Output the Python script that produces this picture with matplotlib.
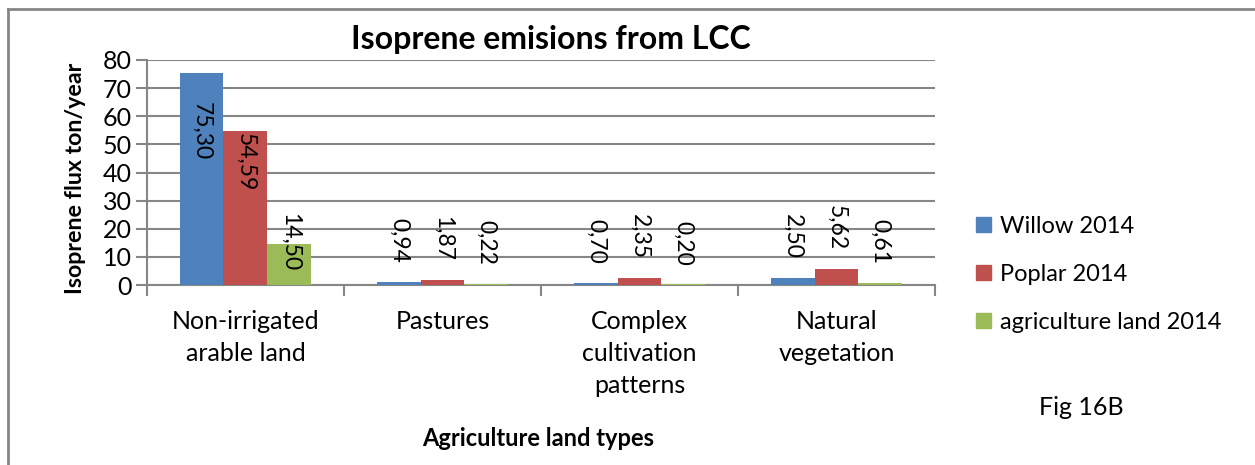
import matplotlib.pyplot as plt
import numpy as np
from matplotlib.lines import Line2D
from matplotlib.patches import Patch

plt.rcParams['font.family'] = ['Lato', 'DejaVu Sans']

categories = ['Non-irrigated\narable land', 'Pastures', 'Complex\ncultivation\npatterns', 'Natural\nvegetation']
series = ['Willow 2014', 'Poplar 2014', 'agriculture land 2014']
willow = [75.30, 0.94, 0.70, 2.50]
poplar = [54.59, 1.87, 2.35, 5.62]
agri = [14.50, 0.22, 0.20, 0.61]
colors = ['#4F81BD', '#C0504D', '#9BBB59']

# first group labels were placed by hand in the original (top of label, data units)
first_label_top = [65.1, 54.0, 25.6]

fig = plt.figure(figsize=(12.55, 4.65), dpi=100)
ax = fig.add_axes([0.1171, 0.387, 0.6279, 0.484])

x = np.arange(len(categories))
w = 0.223
gray = '#868686'
for i, vals in enumerate([willow, poplar, agri]):
    pos = x + (i - 1) * w
    ax.bar(pos, vals, width=w, color=colors[i], zorder=3)
    for j, v in enumerate(vals):
        txt = ('%.2f' % v).replace('.', ',')
        if j == 0:
            ax.text(pos[j], first_label_top[i], txt, rotation=270, ha='center', va='top', fontsize=16.5, zorder=4)
        else:
            ax.text(pos[j], v + 6.8, txt, rotation=270, ha='center', va='bottom', fontsize=16.5, zorder=4)

ax.set_xlim(-0.5, len(categories) - 0.5)
ax.set_ylim(0, 80)
ax.set_yticks(range(0, 81, 10))
ax.yaxis.grid(True, color=gray, lw=1.5, zorder=0)
ax.tick_params(axis='y', length=8, width=1.5, color=gray, labelsize=18, pad=3)
ax.set_xticks(np.arange(-0.5, len(categories), 1.0))
ax.set_xticklabels([])
ax.tick_params(axis='x', length=8, width=1.5, color=gray)
for c, lab in zip(x, categories):
    ax.text(c, -8.8, lab, ha='center', va='top', fontsize=18, linespacing=1.48)

for s in ['top', 'right']:
    ax.spines[s].set_visible(False)
for s in ['left', 'bottom']:
    ax.spines[s].set_color(gray)
    ax.spines[s].set_linewidth(1.5)

fig.text(0.06, 0.617, 'Isoprene flux ton/year', rotation=90, ha='center', va='center', fontsize=16.7, fontweight='bold')
fig.text(0.429, 0.058, 'Agriculture land types', ha='center', va='center', fontsize=17, fontweight='bold')
fig.text(0.439, 0.914, 'Isoprene emisions from LCC', ha='center', va='center', fontsize=23, fontweight='bold')

handles = [Patch(color=c) for c in colors]
fig.legend(handles, series, loc='upper left', bbox_to_anchor=(0.778, 0.535), frameon=False,
           fontsize=17, handlelength=0.6, handleheight=0.6, handletextpad=0.4, labelspacing=1.14,
           borderpad=0, borderaxespad=0)
fig.text(0.862, 0.123, 'Fig 16B', ha='center', va='center', fontsize=18)

# outer frame lines
fig.add_artist(Line2D([8 / 1255, 1], [1 - 9 / 465, 1 - 9 / 465], color=gray, lw=2))
fig.add_artist(Line2D([8 / 1255, 8 / 1255], [0, 1 - 9 / 465], color=gray, lw=2))

fig.savefig('out.png', dpi=100)
